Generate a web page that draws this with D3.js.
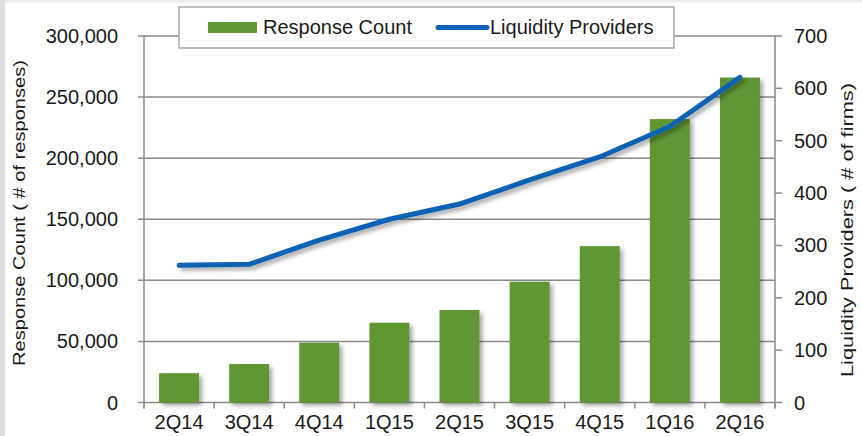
<!DOCTYPE html>
<html lang="en">
<head>
    <meta charset="UTF-8">
    <title>Response Count and Liquidity Providers</title>
    <script src="https://d3js.org/d3.v7.min.js"></script>
    <style>
        body { margin: 0; background: #ffffff; }
        svg { display: block; font-family: "Liberation Sans", Arial, sans-serif; }
        .tick-label { font-size: 20px; fill: #1a1a1a; }
        .axis-title { font-size: 17px; fill: #1a1a1a; }
        .legend-label { font-size: 20px; fill: #1a1a1a; }
    </style>
</head>
<body>
    <script>
        const quarters = ["2Q14", "3Q14", "4Q14", "1Q15", "2Q15", "3Q15", "4Q15", "1Q16", "2Q16"];
        const responseCount = [24000, 31500, 49000, 65300, 75700, 98900, 128000, 232000, 266000];
        const liquidityProviders = [262, 264, 310, 350, 379, 425, 469, 527, 621];
        const leftTicks = [0, 50000, 100000, 150000, 200000, 250000, 300000];
        const rightTicks = [0, 100, 200, 300, 400, 500, 600, 700];

        const width = 862, height = 436;
        const plotLeft = 144, plotRight = 775, plotTop = 36, plotBottom = 402.5;

        const svg = d3.select("body").append("svg")
            .attr("width", width)
            .attr("height", height);

        // soft shadow used by bars and line
        const defs = svg.append("defs");
        defs.append("filter")
            .attr("id", "shadow")
            .attr("x", "-20%").attr("y", "-20%")
            .attr("width", "150%").attr("height", "150%")
            .append("feDropShadow")
            .attr("dx", 3).attr("dy", 3)
            .attr("stdDeviation", 2)
            .attr("flood-color", "#000")
            .attr("flood-opacity", 0.35);

        const topFade = defs.append("linearGradient")
            .attr("id", "topFade")
            .attr("x1", 0).attr("y1", 0).attr("x2", 0).attr("y2", 1);
        topFade.append("stop").attr("offset", 0).attr("stop-color", "#e4e4e4");
        topFade.append("stop").attr("offset", 1).attr("stop-color", "#ffffff");

        // page edges
        svg.append("rect").attr("x", 0).attr("y", 0).attr("width", width).attr("height", 4)
            .attr("fill", "url(#topFade)");
        svg.append("rect").attr("x", 0).attr("y", 0).attr("width", 5).attr("height", height)
            .attr("fill", "#dedede");

        const x = d3.scaleBand()
            .domain(quarters)
            .range([plotLeft, plotRight])
            .paddingInner(0.43)
            .paddingOuter(0.215);

        const yLeft = d3.scaleLinear().domain([0, 300000]).range([plotBottom, plotTop]);
        const yRight = d3.scaleLinear().domain([0, 700]).range([plotBottom, plotTop]);

        // gridlines
        svg.append("g")
            .selectAll("line")
            .data(leftTicks)
            .join("line")
            .attr("x1", plotLeft - 6)
            .attr("x2", plotRight)
            .attr("y1", d => yLeft(d))
            .attr("y2", d => yLeft(d))
            .attr("stroke", "#8a8a8a")
            .attr("stroke-width", 1.5);

        // bars
        svg.append("g")
            .selectAll("rect")
            .data(quarters)
            .join("rect")
            .attr("x", d => x(d))
            .attr("width", x.bandwidth())
            .attr("y", (d, i) => yLeft(responseCount[i]))
            .attr("height", (d, i) => plotBottom - yLeft(responseCount[i]))
            .attr("fill", "#619735")
            .attr("filter", "url(#shadow)");

        // axis lines
        const axisColor = "#8a8a8a";
        svg.append("line").attr("x1", plotLeft).attr("x2", plotLeft).attr("y1", plotTop).attr("y2", plotBottom + 6)
            .attr("stroke", axisColor).attr("stroke-width", 1.5);
        svg.append("line").attr("x1", plotRight).attr("x2", plotRight).attr("y1", plotTop).attr("y2", plotBottom + 6)
            .attr("stroke", axisColor).attr("stroke-width", 1.5);

        // right ticks
        svg.append("g")
            .selectAll("line")
            .data(rightTicks)
            .join("line")
            .attr("x1", plotRight)
            .attr("x2", plotRight + 7)
            .attr("y1", d => yRight(d))
            .attr("y2", d => yRight(d))
            .attr("stroke", axisColor)
            .attr("stroke-width", 1.5);

        // bottom ticks between categories
        const step = x.step();
        svg.append("g")
            .selectAll("line")
            .data(d3.range(quarters.length + 1))
            .join("line")
            .attr("x1", i => plotLeft + i * step)
            .attr("x2", i => plotLeft + i * step)
            .attr("y1", plotBottom)
            .attr("y2", plotBottom + 6)
            .attr("stroke", axisColor)
            .attr("stroke-width", 1.5);

        // line series
        const line = d3.line()
            .x((d, i) => x(quarters[i]) + x.bandwidth() / 2)
            .y(d => yRight(d));

        svg.append("path")
            .datum(liquidityProviders)
            .attr("d", line)
            .attr("fill", "none")
            .attr("stroke", "#0a62b4")
            .attr("stroke-width", 5)
            .attr("stroke-linecap", "round")
            .attr("stroke-linejoin", "round")
            .attr("filter", "url(#shadow)");

        // tick labels
        const fmt = d3.format(",");
        svg.append("g")
            .selectAll("text")
            .data(leftTicks)
            .join("text")
            .attr("class", "tick-label")
            .attr("x", 118)
            .attr("y", d => yLeft(d) + 7)
            .attr("text-anchor", "end")
            .text(d => fmt(d));

        svg.append("g")
            .selectAll("text")
            .data(rightTicks)
            .join("text")
            .attr("class", "tick-label")
            .attr("x", 794)
            .attr("y", d => yRight(d) + 7)
            .text(d => d);

        svg.append("g")
            .selectAll("text")
            .data(quarters)
            .join("text")
            .attr("class", "tick-label")
            .attr("x", d => x(d) + x.bandwidth() / 2)
            .attr("y", 429)
            .attr("text-anchor", "middle")
            .text(d => d);

        // axis titles
        svg.append("text")
            .attr("class", "axis-title")
            .attr("transform", "translate(25,213) rotate(-90)")
            .attr("text-anchor", "middle")
            .attr("textLength", 306)
            .attr("lengthAdjust", "spacingAndGlyphs")
            .text("Response Count ( # of responses)");

        svg.append("text")
            .attr("class", "axis-title")
            .attr("transform", "translate(853,230) rotate(-90)")
            .attr("text-anchor", "middle")
            .attr("textLength", 294)
            .attr("lengthAdjust", "spacingAndGlyphs")
            .text("Liquidity Providers ( # of firms)");

        // legend
        const legend = svg.append("g");
        legend.append("rect")
            .attr("x", 179).attr("y", 7)
            .attr("width", 495).attr("height", 41)
            .attr("fill", "#ffffff")
            .attr("stroke", "#a6a6a6")
            .attr("stroke-width", 1.5);
        legend.append("rect")
            .attr("x", 208).attr("y", 22)
            .attr("width", 49).attr("height", 11)
            .attr("fill", "#619735");
        legend.append("text")
            .attr("class", "legend-label")
            .attr("x", 263).attr("y", 34)
            .text("Response Count");
        legend.append("line")
            .attr("x1", 438).attr("x2", 487)
            .attr("y1", 27.5).attr("y2", 27.5)
            .attr("stroke", "#0a62b4")
            .attr("stroke-width", 5)
            .attr("stroke-linecap", "round");
        legend.append("text")
            .attr("class", "legend-label")
            .attr("x", 490).attr("y", 34)
            .text("Liquidity Providers");
    </script>
</body>
</html>
